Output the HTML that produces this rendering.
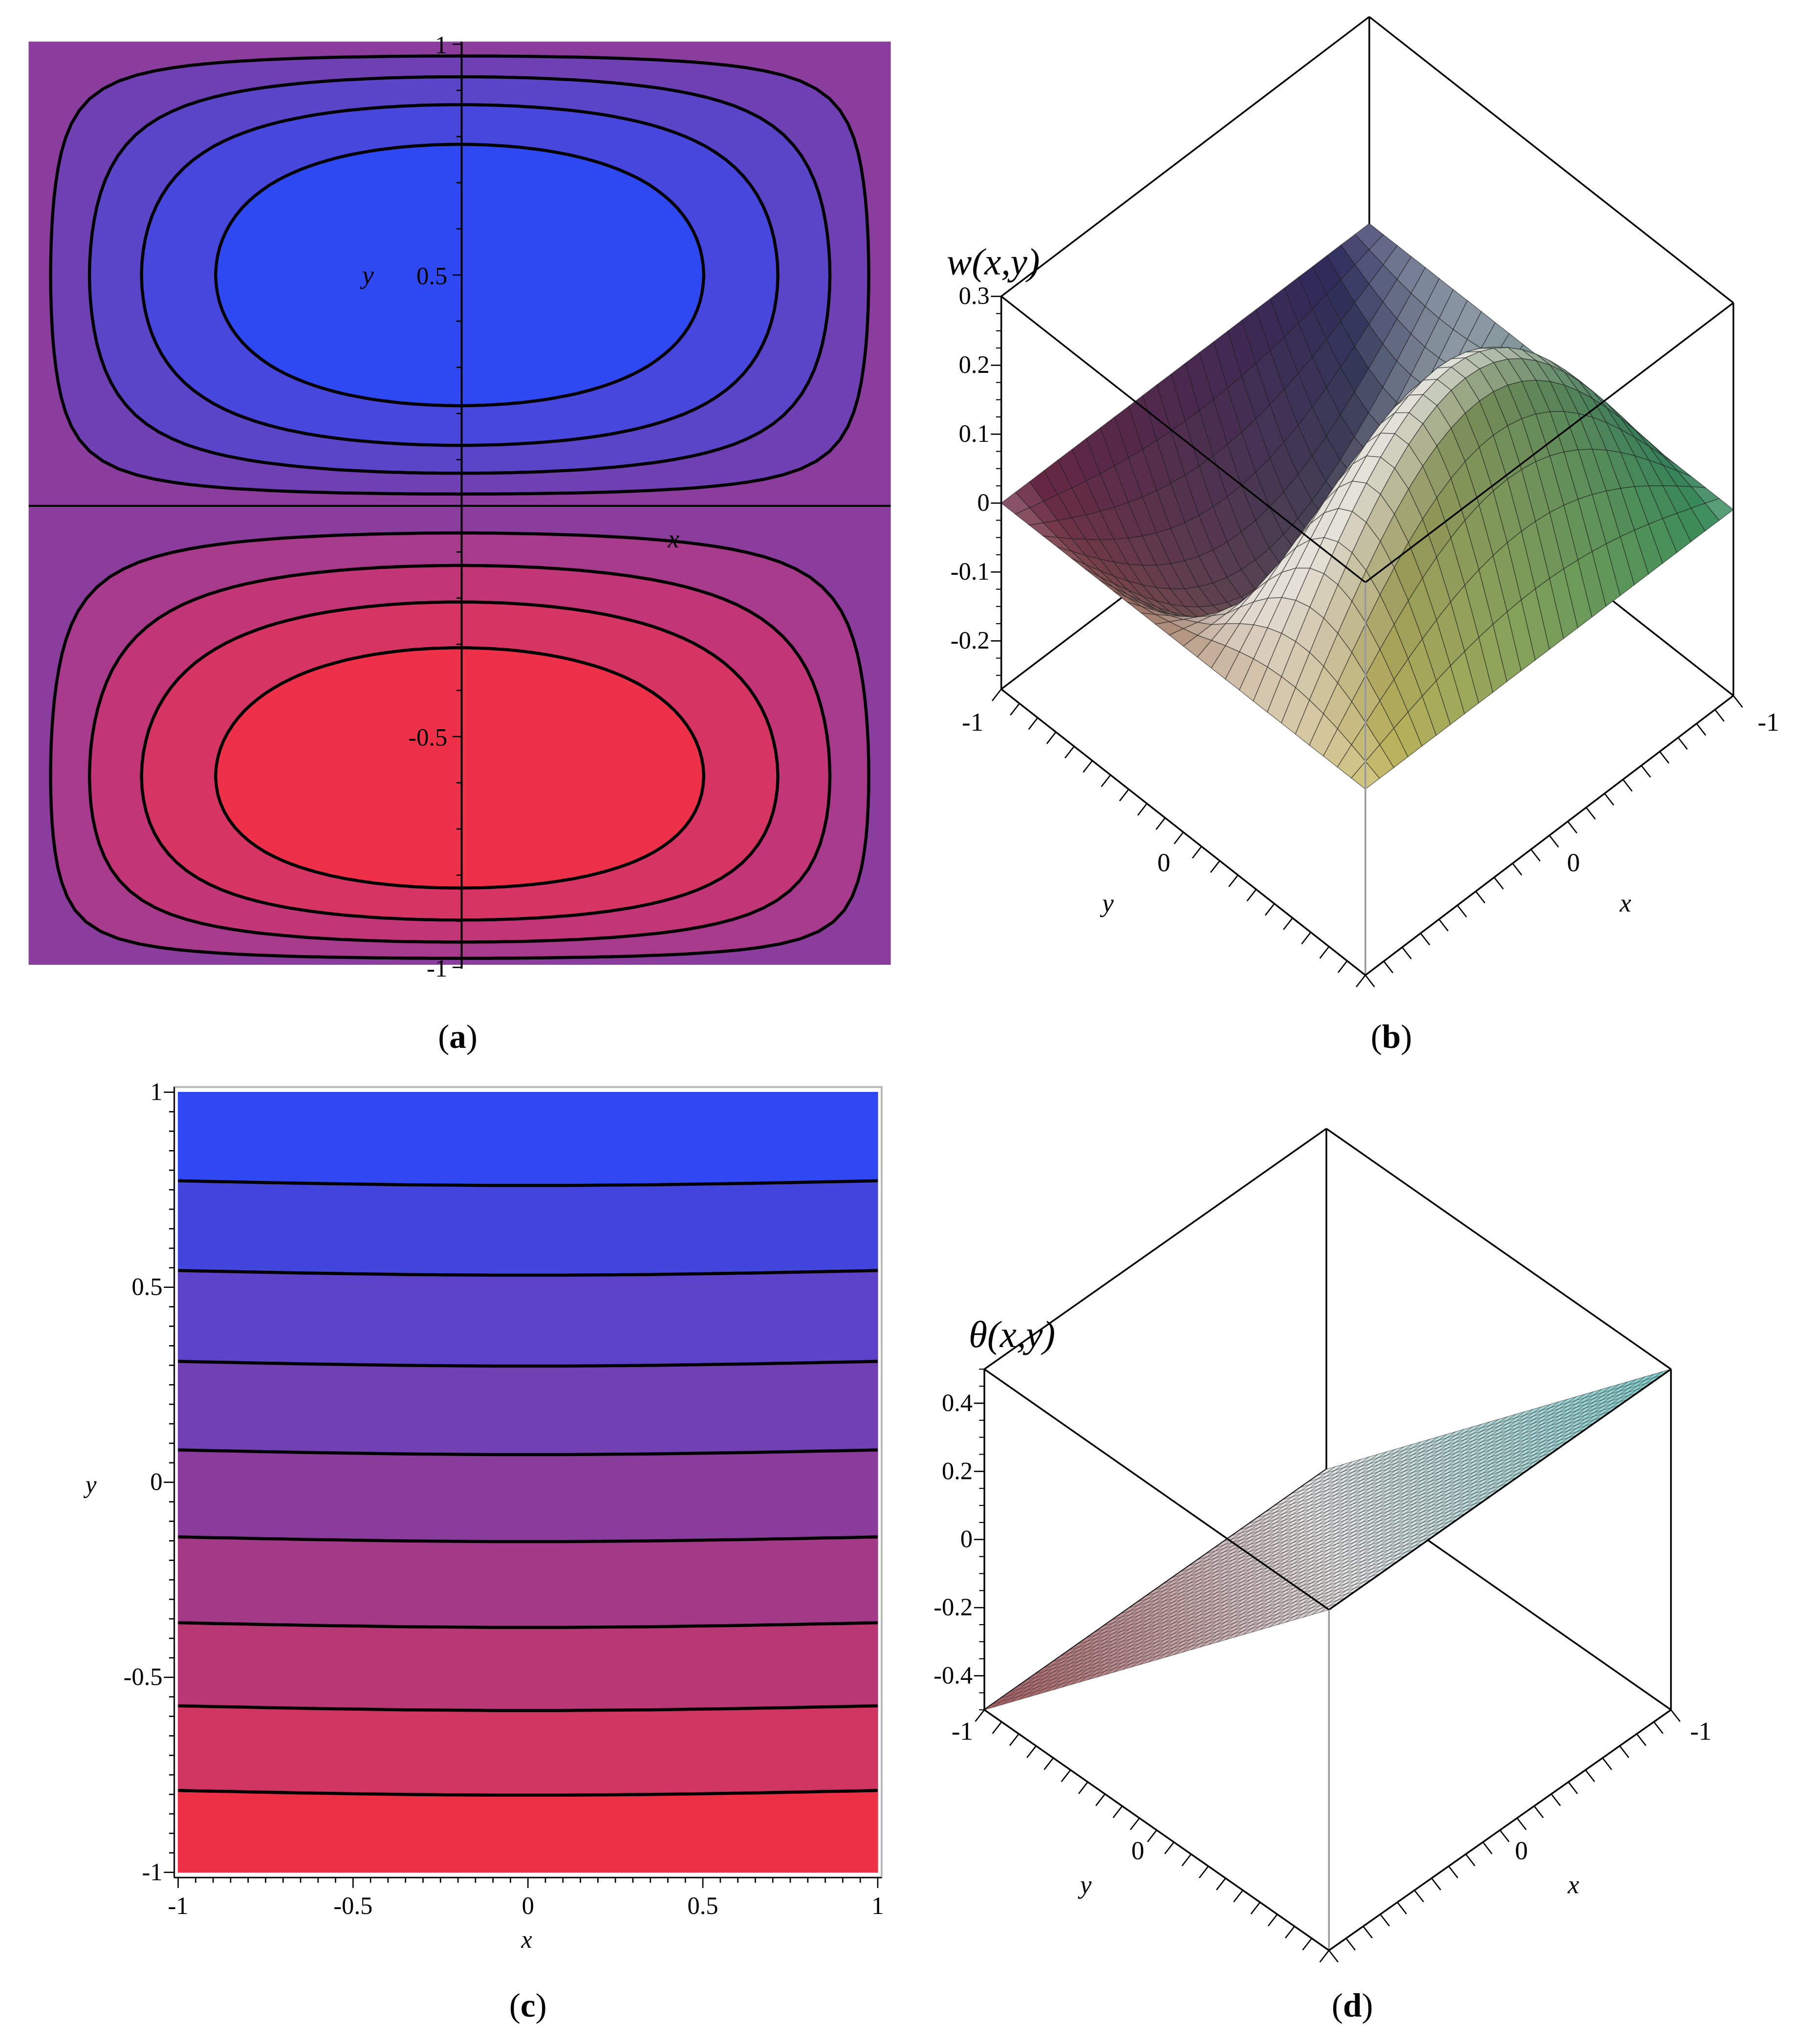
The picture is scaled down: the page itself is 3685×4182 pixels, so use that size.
<!DOCTYPE html>
<html><head><meta charset="utf-8">
<style>
html,body{margin:0;padding:0;background:#fff;}
svg{display:block;}
text{font-family:"Liberation Serif",serif;}
</style></head>
<body>
<svg id="fig" xmlns="http://www.w3.org/2000/svg" width="3685" height="4182" viewBox="0 0 1385 1572" preserveAspectRatio="none">
<rect x="0" y="0" width="1385" height="1572" fill="#fff"/>
<g id="pa"></g>
<g id="pb"></g>
<g id="pc"></g>
<g id="pd"></g>
<g id="labels">
<text x="352" y="806" font-size="26" text-anchor="middle">(<tspan font-weight="bold">a</tspan>)</text>
<text x="1070" y="806" font-size="26" text-anchor="middle">(<tspan font-weight="bold">b</tspan>)</text>
<text x="406" y="1551" font-size="26" text-anchor="middle">(<tspan font-weight="bold">c</tspan>)</text>
<text x="1040" y="1551" font-size="26" text-anchor="middle">(<tspan font-weight="bold">d</tspan>)</text>
</g>
</svg>
<script>
// ---------- data ----------
const contourLevelsA = [0.08, 0.22, 0.40, 0.63];
const topBandColors = ['#6f40b3', '#5a44c8', '#4747dd', '#2e48f2'];
const bottomBandColors = ['#a83a8b', '#c23678', '#d63463', '#ee3048'];
const bgColorA = '#8a3d9c';
const topPeakY = 0.5;
const bottomPeakY = -0.586;
const yTicksA = [1, 0.5, -0.5, -1];
const yTickLabelsA = ['1', '0.5', '-0.5', '-1'];

const contourYC = [0.773, 0.543, 0.31, 0.083, -0.14, -0.36, -0.573, -0.79];
const bandColorsC = ['#2f48f3', '#4346dd', '#5b42c8', '#7140b2', '#8a3c9c', '#a23a88', '#b93774', '#cf3560', '#ee3046'];
const xTicksC = [-1, -0.5, 0, 0.5, 1];
const xTickLabelsC = ['-1', '-0.5', '0', '0.5', '1'];
const yTicksC = [1, 0.5, 0, -0.5, -1];
const yTickLabelsC = ['1', '0.5', '0', '-0.5', '-1'];

const zTicksB = [0.3, 0.2, 0.1, 0, -0.1, -0.2];
const zTickLabelsB = ['0.3', '0.2', '0.1', '0', '-0.1', '-0.2'];
const peakB = [0.3];
const troughB = [0.22];

const zTicksD = [0.4, 0.2, 0, -0.2, -0.4];
const zTickLabelsD = ['0.4', '0.2', '0', '-0.2', '-0.4'];
const slopeD = [0.5];

const NS = 'http://www.w3.org/2000/svg';
function mk(tag, attrs, parent){const e=document.createElementNS(NS,tag);for(const k in attrs)e.setAttribute(k,attrs[k]);parent.appendChild(e);return e;}
function txt(s, x, y, size, parent, anchor, style){const t=mk('text',{x:x,y:y,'font-size':size,'text-anchor':anchor||'start'},parent);if(style)t.setAttribute('font-style',style);t.textContent=s;return t;}
function pts(arr){return arr.map(p=>p[0].toFixed(1)+','+p[1].toFixed(1)).join(' ');}

// ---------- Panel A ----------
(function(){
  const g=document.getElementById('pa');
  const xA=v=>353.5+v*331.5, yA=v=>389-v*355;
  const bg=mk('rect',{x:22,y:32,width:663,height:710,fill:bgColorA},g);
  
  
  function f(x,y,top){
    if(Math.abs(x)>1) return -1;
    if(top){ if(y<0||y>1) return -1; return Math.cos(Math.PI*x/2)*Math.sin(Math.PI*y);}
    if(y>0||y<-1) return -1; const t=-y;
    return Math.cos(Math.PI*x/2)*Math.sin(Math.PI*Math.pow(t,1.296));
  }
  function ring(level, top){
    const cy=top?topPeakY:bottomPeakY; const out=[];
    for(let k=0;k<180;k++){
      const th=2*Math.PI*k/180, dx=Math.cos(th), dy=Math.sin(th);
      let lo=0, hi=1.6;
      for(let i=0;i<40;i++){const m=(lo+hi)/2; if(f(m*dx,cy+m*dy,top)>level) lo=m; else hi=m;}
      out.push([xA(lo*dx), yA(cy+lo*dy)]);
    }
    return out;
  }
  contourLevelsA.forEach((L,i)=>{
    const p1=mk('polygon',{points:pts(ring(L,true)),fill:topBandColors[i],stroke:'#000','stroke-width':2.4},g);
    
    
    const p2=mk('polygon',{points:pts(ring(L,false)),fill:bottomBandColors[i],stroke:'#000','stroke-width':2.4},g);
    
    
  });
  const ax=mk('line',{x1:22,y1:389,x2:685,y2:389,stroke:'#000','stroke-width':1.5},g);
  
  
  const ay=mk('line',{x1:355,y1:32,x2:355,y2:745,stroke:'#000','stroke-width':1.5},g);
  
  
  for(let v=-1;v<=1.0001;v+=0.1){
    const t=mk('line',{x1:355,y1:yA(v),x2:Math.abs(Math.round(v*10))%5===0?348:351,y2:yA(v),stroke:'#000','stroke-width':1},g);
    
    
  }
  yTicksA.forEach((v,i)=>{
    const t=txt(yTickLabelsA[i],344,yA(v)+7,19,g,'end');
    
    
  });
  const yl=txt('y',283,218,20,g,'middle','italic');
  
  
  const xl=txt('x',518,421,20,g,'middle','italic');
  
  
})();

// ---------- Panel C ----------
(function(){
  const g=document.getElementById('pc');
  const xC=v=>406+v*269, yC=v=>1140-v*300;
  const sag=x=>-0.012*Math.cos(Math.PI*x/2);
  function line(v){const a=[];for(let i=0;i<=40;i++){const x=-1+i/20;a.push([xC(x),yC(v+sag(x))]);}return a;}
  const bounds=[null].concat(contourYC).concat([null]);
  for(let i=0;i<bandColorsC.length;i++){
    const top=bounds[i]===null?[[xC(-1),yC(1)],[xC(1),yC(1)]]:line(bounds[i]);
    const bot=bounds[i+1]===null?[[xC(1),yC(-1)],[xC(-1),yC(-1)]]:line(bounds[i+1]).reverse();
    const b=mk('polygon',{points:pts(top.concat(bot)),fill:bandColorsC[i],stroke:bandColorsC[i],'stroke-width':0.5},g);
    
    
  }
  contourYC.forEach((v,i)=>{
    const l=mk('polyline',{points:pts(line(v)),fill:'none',stroke:'#000','stroke-width':2.4},g);
    
    
  });
  const fr=mk('rect',{x:134,y:836,width:544,height:608,fill:'none',stroke:'#bbb','stroke-width':1.5},g);
  
  
  const xa=mk('line',{x1:134,y1:1444,x2:678,y2:1444,stroke:'#000','stroke-width':1},g);
  
  
  const ya=mk('line',{x1:134,y1:836,x2:134,y2:1444,stroke:'#000','stroke-width':1},g);
  
  
  for(let k=-20;k<=20;k++){
    const v=k/20, major=k%10===0;
    const t=mk('line',{x1:xC(v),y1:1444,x2:xC(v),y2:major?1452:1448,stroke:'#000','stroke-width':1},g);
    
    
    const t2=mk('line',{x1:134,y1:yC(v),x2:major?126:130,y2:yC(v),stroke:'#000','stroke-width':1},g);
    
    
  }
  xTicksC.forEach((v,i)=>{
    const t=txt(xTickLabelsC[i],xC(v),1472,19,g,'middle');
    
    
  });
  yTicksC.forEach((v,i)=>{
    const t=txt(yTickLabelsC[i],125,yC(v)+6,19,g,'end');
    
    
  });
  const xl=txt('x',405,1498,19,g,'middle','italic');
  
  
  const yl=txt('y',70,1148,19,g,'middle','italic');
  
  
})();

// ---------- 3D helpers ----------
function hex(c){return [parseInt(c.slice(1,3),16),parseInt(c.slice(3,5),16),parseInt(c.slice(5,7),16)];}
function mix(a,b,t){return a.map((v,i)=>v+(b[i]-v)*t);}
function rgb(c){return 'rgb('+c.map(v=>Math.max(0,Math.min(255,Math.round(v)))).join(',')+')';}
function box(g, P, zmin, zmax, back){
  const c=(x,y,z)=>P(x,y,z);
  const E=[];
  if(back){
    E.push([c(-1,-1,zmin),c(-1,-1,zmax),'back-vertical-edge']);
    E.push([c(-1,-1,zmin),c(1,-1,zmin),'back-bottom-left-edge']);
    E.push([c(-1,-1,zmin),c(-1,1,zmin),'back-bottom-right-edge']);
  } else {
    E.push([c(-1,-1,zmax),c(1,-1,zmax),'top-edge']);
    E.push([c(-1,-1,zmax),c(-1,1,zmax),'top-edge']);
    E.push([c(1,-1,zmax),c(1,1,zmax),'top-edge']);
    E.push([c(-1,1,zmax),c(1,1,zmax),'top-edge']);
    E.push([c(1,-1,zmin),c(1,-1,zmax),'left-vertical-edge']);
    E.push([c(-1,1,zmin),c(-1,1,zmax),'right-vertical-edge']);
    E.push([c(1,1,zmin),c(1,1,zmax),'front-vertical-edge']);
    E.push([c(1,-1,zmin),c(1,1,zmin),'y-axis-edge']);
    E.push([c(-1,1,zmin),c(1,1,zmin),'x-axis-edge']);
  }
  E.forEach(e=>{
    const l=mk('line',{x1:e[0][0],y1:e[0][1],x2:e[1][0],y2:e[1][1],stroke:e[2]==='front-vertical-edge'?'#999':'#000','stroke-width':1.3},g);
    
    
  });
}
function axisTicks(g,P,zmin){
  for(let k=0;k<=20;k++){
    const v=-1+k/10;
    const a=P(1,v,zmin);
    const t=mk('line',{x1:a[0],y1:a[1],x2:a[0]-7,y2:a[1]+9,stroke:'#000','stroke-width':1},g);
    
    
    const b=P(v,1,zmin);
    const t2=mk('line',{x1:b[0],y1:b[1],x2:b[0]+7,y2:b[1]+9,stroke:'#000','stroke-width':1},g);
    
    
  }
}

// ---------- Panel B ----------
(function(){
  const g=document.getElementById('pb');
  const zmin=-0.27, zmax=0.3;
  const P=(x,y,z)=>{const u=(1-y)/2, v=(1-x)/2;return [1050-280*u+283*v, 750-220*u-215*v-(z-zmin)*530];};
  const w=(x,y)=>{const c=Math.cos(Math.PI*x/2), s=Math.sin(Math.PI*y);return c*s*(s>0?peakB[0]:troughB[0]);};
  box(g,P,zmin,zmax,true);
  const cBack=hex('#262a5e'), cLeft=hex('#6a2440'), cRight=hex('#2f8a58'), cFront=hex('#c9b85c'), white=hex('#f4f2f0');
  const N=26, quads=[];
  for(let i=0;i<N;i++)for(let j=0;j<N;j++){
    const x0=-1+2*i/N,x1=-1+2*(i+1)/N,y0=-1+2*j/N,y1=-1+2*(j+1)/N;
    quads.push([x0,x1,y0,y1]);
  }
  quads.sort((a,b)=>(a[0]+a[2])-(b[0]+b[2]));
  quads.forEach(q=>{
    const [x0,x1,y0,y1]=q;
    const poly=[P(x0,y0,w(x0,y0)),P(x1,y0,w(x1,y0)),P(x1,y1,w(x1,y1)),P(x0,y1,w(x0,y1))];
    const xm=(x0+x1)/2, ym=(y0+y1)/2;
    const u=(xm+1)/2, v=(ym+1)/2;
    let col=mix(mix(cBack,cLeft,u),mix(cRight,cFront,u),v);
    const dwy=(w(xm,y1)-w(xm,y0))/(y1-y0), dwx=(w(x1,ym)-w(x0,ym))/(x1-x0);
    let lit=Math.max(0,Math.min(1,0.35+1.6*dwy-0.6*dwx+1.2*w(xm,ym)));
    col=mix(col,white,lit*0.85);
    const p=mk('polygon',{points:pts(poly),fill:rgb(col),stroke:'rgba(30,30,30,0.55)','stroke-width':0.6},g);
    
    
  });
  box(g,P,zmin,zmax,false);
  axisTicks(g,P,zmin);
  zTicksB.forEach((z,i)=>{
    const a=P(1,-1,z);
    const t=mk('line',{x1:a[0],y1:a[1],x2:a[0]-8,y2:a[1],stroke:'#000','stroke-width':1},g);
    
    
    const l=txt(zTickLabelsB[i],a[0]-9,a[1]+6,19,g,'end');
    
    
  });
  for(let z=-0.25;z<=0.3;z+=0.025){const a=P(1,-1,z);const t=mk('line',{x1:a[0],y1:a[1],x2:a[0]-4,y2:a[1],stroke:'#000','stroke-width':0.8},g);}
  const labs=[['-1',748,562,'y-tick-label'],['0',895,670,'y-tick-label'],['y',852,701,'y-axis-title'],['-1',1360,562,'x-tick-label'],['0',1210,670,'x-tick-label'],['x',1250,701,'x-axis-title']];
  labs.forEach(s=>{const t=txt(s[0],s[1],s[2],20,g,'middle',s[3].indexOf('title')>0?'italic':null);});
  const ti=txt('w(x,y)',728,211,29,g,'start','italic');
  
  
})();

// ---------- Panel D ----------
(function(){
  const g=document.getElementById('pd');
  const zmin=-0.5, zmax=0.5;
  const P=(x,y,z)=>{const u=(1-y)/2, v=(1-x)/2;return [1022-265*u+263*v, 1500-185*u-185*v-(z-zmin)*262];};
  const th=(x,y)=>slopeD[0]*y;
  box(g,P,zmin,zmax,true);
  const defs=mk('defs',{},g);
  const lg=mk('linearGradient',{id:'gd',gradientUnits:'userSpaceOnUse',x1:P(1,-1,th(1,-1))[0],y1:P(1,-1,th(1,-1))[1],x2:P(-1,1,th(-1,1))[0],y2:P(-1,1,th(-1,1))[1]},defs);
  mk('stop',{offset:'0','stop-color':'#a85a5e'},lg);
  mk('stop',{offset:'0.5','stop-color':'#e6e6e6'},lg);
  mk('stop',{offset:'1','stop-color':'#7fd0d0'},lg);
  const plane=mk('polygon',{points:pts([P(-1,-1,th(-1,-1)),P(1,-1,th(1,-1)),P(1,1,th(1,1)),P(-1,1,th(-1,1))]),fill:'url(#gd)'},g);
  
  
  const M=40;
  for(let i=0;i<=M;i++){
    const v=-1+2*i/M;
    const a=P(v,-1,th(v,-1)), b=P(v,1,th(v,1));
    const l=mk('line',{x1:a[0],y1:a[1],x2:b[0],y2:b[1],stroke:'rgba(60,60,60,0.6)','stroke-width':0.5},g);
    
    
    const c=P(-1,v,th(-1,v)), d=P(1,v,th(1,v));
    const l2=mk('line',{x1:c[0],y1:c[1],x2:d[0],y2:d[1],stroke:'rgba(60,60,60,0.6)','stroke-width':0.5},g);
    
    
  }
  box(g,P,zmin,zmax,false);
  axisTicks(g,P,zmin);
  zTicksD.forEach((z,i)=>{
    const a=P(1,-1,z);
    const t=mk('line',{x1:a[0],y1:a[1],x2:a[0]-8,y2:a[1],stroke:'#000','stroke-width':1},g);
    
    
    const l=txt(zTickLabelsD[i],a[0]-9,a[1]+6,19,g,'end');
    
    
  });
  for(let z=-0.5;z<=0.5;z+=0.05){const a=P(1,-1,z);const t=mk('line',{x1:a[0],y1:a[1],x2:a[0]-4,y2:a[1],stroke:'#000','stroke-width':0.8},g);}
  const labs=[['-1',740,1338,'y-tick-label'],['0',875,1430,'y-tick-label'],['y',835,1456,'y-axis-title'],['-1',1308,1338,'x-tick-label'],['0',1170,1430,'x-tick-label'],['x',1210,1456,'x-axis-title']];
  labs.forEach(s=>{const t=txt(s[0],s[1],s[2],20,g,'middle',s[3].indexOf('title')>0?'italic':null);});
  const ti=txt('\u03B8(x,y)',745,1036,29,g,'start','italic');
  
  
})();
</script>
</body></html>
